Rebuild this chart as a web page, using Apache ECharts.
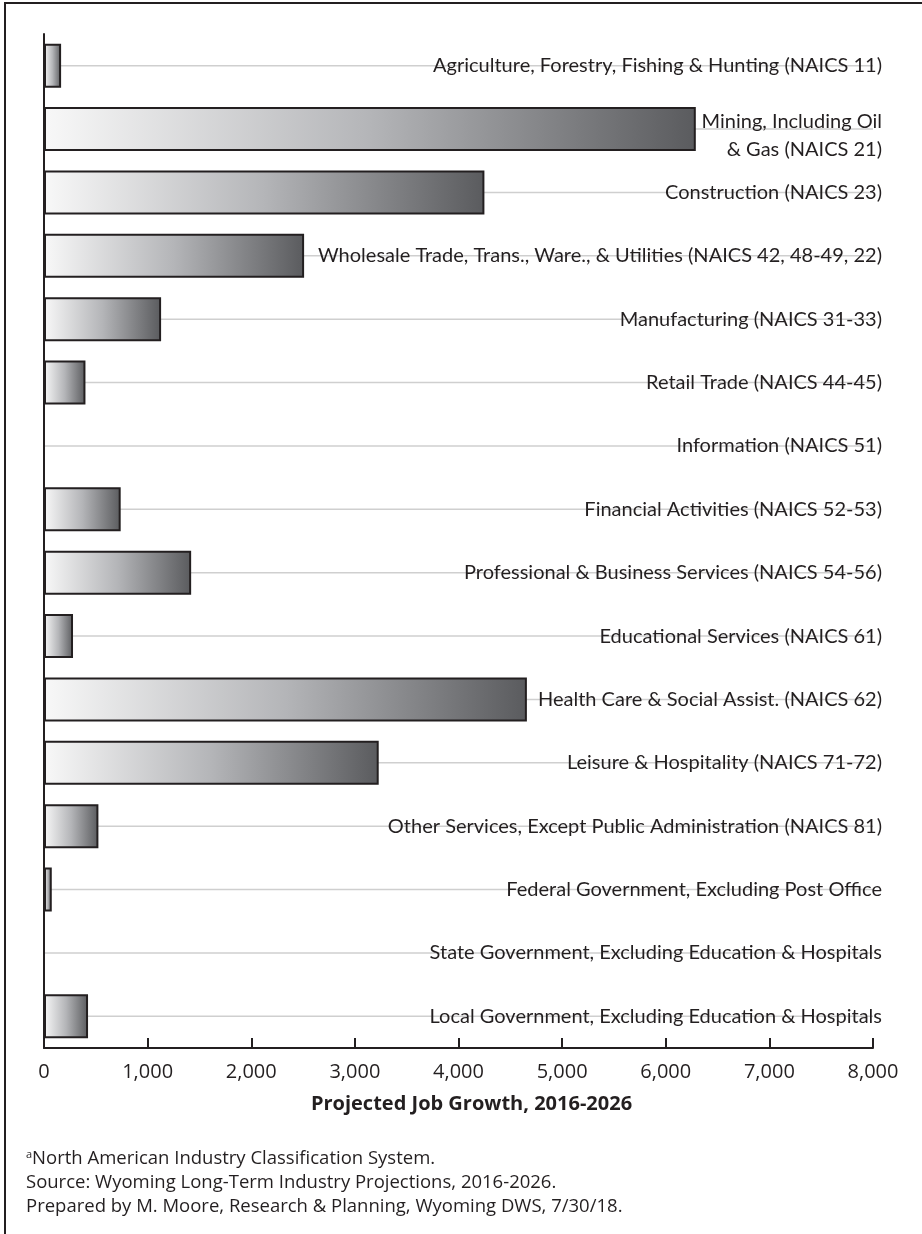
<!DOCTYPE html>
<html>
<head>
<meta charset="utf-8">
<script src="https://cdn.jsdelivr.net/npm/echarts@6/dist/echarts.min.js"></script>
<style>
  body { margin: 0; background: #fff; }
  #frame { position: absolute; left: 4px; top: 2px; width: 940px; height: 1260px;
           border-left: 2px solid #231f20; border-top: 2px solid #231f20; }
  #main { position: absolute; left: 0; top: 0; width: 922px; height: 1234px; }
</style>
</head>
<body>
<div id="frame"></div>
<div id="main"></div>
<script>
// industries, top to bottom
var industries = [
  'Agriculture, Forestry, Fishing & Hunting (NAICS 11)',
  'Mining, Including Oil\n& Gas (NAICS 21)',
  'Construction (NAICS 23)',
  'Wholesale Trade, Trans., Ware., & Utilities (NAICS 42, 48-49, 22)',
  'Manufacturing (NAICS 31-33)',
  'Retail Trade (NAICS 44-45)',
  'Information (NAICS 51)',
  'Financial Activities (NAICS 52-53)',
  'Professional & Business Services (NAICS 54-56)',
  'Educational Services (NAICS 61)',
  'Health Care & Social Assist. (NAICS 62)',
  'Leisure & Hospitality (NAICS 71-72)',
  'Other Services, Except Public Administration (NAICS 81)',
  'Federal Government, Excluding Post Office',
  'State Government, Excluding Education & Hospitals',
  'Local Government, Excluding Education & Hospitals'
];
// projected job growth 2016-2026
var jobGrowth = [165, 6290, 4250, 2510, 1130, 400, 0, 740, 1420, 280, 4660, 3230, 525, 75, 0, 425];
var xTicks = [0, 8000, 1000];
var footnotes = [
  '{sup|a}North American Industry Classification System.',
  'Source: Wyoming Long-Term Industry Projections, 2016-2026.',
  'Prepared by M. Moore, Research & Planning, Wyoming DWS, 7/30/18.'
];

var font = 'Open Sans';
var labelFont = 'Lato';
var ink = '#231f20';

let myChart = echarts.init(document.getElementById('main'));

let option = {
  animation: false,
  grid: { left: 44, right: 49, top: 34, bottom: 186 },
  xAxis: {
    type: 'value',
    min: xTicks[0],
    max: xTicks[1],
    interval: xTicks[2],
    name: 'Projected Job Growth, 2016-2026',
    nameLocation: 'middle',
    nameGap: 46,
    nameTextStyle: { fontFamily: font, fontWeight: 'bold', fontSize: 20, color: ink, padding: [0, 0, 0, 26] },
    axisLine: { show: true, lineStyle: { color: ink, width: 2 } },
    axisTick: { show: true, inside: true, length: 10, lineStyle: { color: ink, width: 2 } },
    axisLabel: {
      fontFamily: font, fontSize: 20, color: ink, margin: 14,
      formatter: function (v) { return v.toLocaleString('en-US'); }
    },
    splitLine: { show: false }
  },
  yAxis: {
    type: 'category',
    inverse: true,
    data: industries,
    axisLine: { show: true, onZero: false, lineStyle: { color: ink, width: 2 } },
    axisTick: { show: false },
    axisLabel: { show: false }
  },
  series: [
    {
      // gray leader lines and right-aligned industry labels
      type: 'custom',
      z: 1,
      silent: true,
      data: jobGrowth.map(function (v, i) { return [v, i]; }),
      encode: { x: 0, y: 1 },
      renderItem: function (params, api) {
        var i = api.value(1);
        var start = api.coord([0, i]);
        var end = api.coord([xTicks[1], i]);
        var label = industries[params.dataIndex];
        var twoLines = label.indexOf('\n') >= 0;
        return {
          type: 'group',
          children: [
            {
              type: 'line',
              shape: { x1: start[0], y1: start[1], x2: end[0], y2: end[1] },
              style: { stroke: '#cfcfcf', lineWidth: 1.5 }
            },
            {
              type: 'text',
              style: {
                text: label,
                x: end[0] + 9,
                y: end[1] + (twoLines ? 6 : 0),
                align: 'right',
                verticalAlign: 'middle',
                fontFamily: labelFont,
                fontSize: 20,
                lineHeight: 28,
                fill: ink
              }
            }
          ]
        };
      }
    },
    {
      type: 'bar',
      z: 3,
      data: jobGrowth,
      barWidth: 44,
      itemStyle: {
        color: new echarts.graphic.LinearGradient(0, 0, 1, 0, [
          { offset: 0, color: '#f8f8f8' },
          { offset: 0.5, color: '#b4b5b8' },
          { offset: 1, color: '#5a5b5e' }
        ]),
        borderColor: ink,
        borderWidth: 2
      }
    }
  ],
  graphic: footnotes.map(function (t, k) {
    return {
      type: 'text',
      left: 26,
      top: 1149 + k * 24,
      style: {
        text: t,
        fontFamily: font,
        fontSize: 18.5,
        fill: ink,
        rich: { sup: { fontFamily: font, fontSize: 11, verticalAlign: 'top', fill: ink, padding: [0, 0, 8, 0] } }
      }
    };
  })
};

myChart.setOption(option);
</script>
</body>
</html>
